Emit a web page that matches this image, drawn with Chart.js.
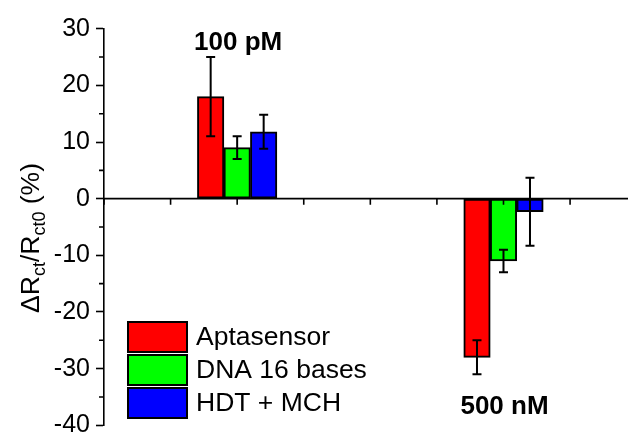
<!DOCTYPE html>
<html lang="en">
<head>
<meta charset="utf-8">
<title>Rct change</title>
<script src="https://cdn.jsdelivr.net/npm/chart.js@4.4.0/dist/chart.umd.min.js"></script>
<style>
  body { margin: 0; background: #fff; }
  #wrap { width: 628px; height: 432px; }
</style>
</head>
<body>
<div id="wrap"><canvas id="c" width="628" height="432"></canvas></div>
<script>
// x position of each concentration group, and its label
var groupPos = [2, 6];
var groupLabels = ["100 pM", "500 nM"];
var groupLabelY = [26.2, -38];

var seriesNames = ["Aptasensor", "DNA 16 bases", "HDT + MCH"];
var seriesColors = ["#ff0000", "#00ff00", "#0000ff"];
var aptaVals = [18, -28];
var aptaErr = [7, 3];
var dnaVals = [9, -11];
var dnaErr = [2, 2];
var hdtVals = [11.8, -2.3];
var hdtErr = [3, 6];

var yTicks = [-40, -30, -20, -10, 0, 10, 20, 30];
var yMinor = [-35, -25, -15, -5, 5, 15, 25];
var xTicks = [0, 1, 2, 3, 4, 5, 6, 7];

var FONT = "'Liberation Sans', Arial, sans-serif";
var errs = [aptaErr, dnaErr, hdtErr];

function pts(vals) {
  return vals.map(function (v, i) { return { x: groupPos[i], y: v }; });
}

var extras = {
  id: 'extras',
  afterDatasetsDraw: function (chart) {
    var ctx = chart.ctx, xs = chart.scales.x, ys = chart.scales.y, a = chart.chartArea;
    ctx.save();
    ctx.strokeStyle = '#000';
    ctx.lineWidth = 2;

    // error bars
    chart.data.datasets.forEach(function (ds, di) {
      var meta = chart.getDatasetMeta(di);
      meta.data.forEach(function (bar, i) {
        var v = ds.data[i].y, e = errs[di][i];
        var x = bar.x, y1 = ys.getPixelForValue(v + e), y2 = ys.getPixelForValue(v - e);
        ctx.beginPath();
        ctx.moveTo(x, y1); ctx.lineTo(x, y2);
        ctx.moveTo(x - 4.5, y1); ctx.lineTo(x + 4.5, y1);
        ctx.moveTo(x - 4.5, y2); ctx.lineTo(x + 4.5, y2);
        ctx.stroke();
      });
    });

    // zero line with its ticks
    ctx.lineWidth = 1.6;
    var y0 = ys.getPixelForValue(0);
    ctx.beginPath();
    ctx.moveTo(a.left, y0); ctx.lineTo(a.right, y0);
    xTicks.forEach(function (t) {
      var x = xs.getPixelForValue(t);
      ctx.moveTo(x, y0); ctx.lineTo(x, y0 + 6);
    });
    // minor ticks on y
    yMinor.forEach(function (t) {
      var y = ys.getPixelForValue(t);
      ctx.moveTo(a.left, y); ctx.lineTo(a.left - 5, y);
    });
    ctx.stroke();

    // concentration labels
    ctx.fillStyle = '#000';
    ctx.font = 'bold 26px ' + FONT;
    ctx.textAlign = 'center';
    ctx.textBaseline = 'alphabetic';
    groupLabels.forEach(function (t, i) {
      ctx.fillText(t, xs.getPixelForValue(groupPos[i]) + 1, ys.getPixelForValue(groupLabelY[i]));
    });
    ctx.restore();
  },
  afterDraw: function (chart) {
    var ctx = chart.ctx;
    ctx.save();
    // legend
    var lx = 128, ly = 322, bw = 59, bh = 30, gap = 33;
    ctx.font = '26.5px ' + FONT;
    ctx.textAlign = 'left';
    ctx.textBaseline = 'middle';
    seriesNames.forEach(function (n, i) {
      var y = ly + i * gap;
      ctx.fillStyle = seriesColors[i];
      ctx.fillRect(lx, y, bw, bh);
      ctx.strokeStyle = '#000';
      ctx.lineWidth = 2;
      ctx.strokeRect(lx, y, bw, bh);
      ctx.fillStyle = '#000';
      ctx.fillText(n, lx + bw + 9, y + bh / 2 + 1);
    });

    // y axis title with subscripts
    var parts = [
      ['\u0394R', 26.5, 0], ['ct', 18, 6], ['/R', 26.5, 0], ['ct0', 18, 6], [' (%)', 26.5, 0]
    ];
    var total = 0;
    parts.forEach(function (p) { ctx.font = p[1] + 'px ' + FONT; total += ctx.measureText(p[0]).width; });
    ctx.translate(39, 238);
    ctx.rotate(-Math.PI / 2);
    ctx.textBaseline = 'alphabetic';
    var cx = -total / 2;
    parts.forEach(function (p) {
      ctx.font = p[1] + 'px ' + FONT;
      ctx.fillText(p[0], cx, p[2]);
      cx += ctx.measureText(p[0]).width;
    });
    ctx.restore();
  }
};

new Chart(document.getElementById('c').getContext('2d'), {
  type: 'bar',
  data: {
    datasets: [
      { label: seriesNames[0], data: pts(aptaVals), backgroundColor: seriesColors[0] },
      { label: seriesNames[1], data: pts(dnaVals), backgroundColor: seriesColors[1] },
      { label: seriesNames[2], data: pts(hdtVals), backgroundColor: seriesColors[2] }
    ]
  },
  options: {
    responsive: false,
    animation: false,
    layout: { padding: { left: 0, right: 0, top: 28.7, bottom: 6.7 } },
    datasets: {
      bar: { barThickness: 26.5, borderColor: '#000', borderWidth: 2, borderSkipped: false }
    },
    plugins: { legend: { display: false }, tooltip: { enabled: false } },
    scales: {
      x: {
        type: 'linear', min: 0, max: 7.87, offset: false, display: false,
        grid: { offset: false }
      },
      y: {
        min: -40, max: 30,
        afterBuildTicks: function (s) { s.ticks = yTicks.map(function (v) { return { value: v }; }); },
        afterFit: function (s) { s.width = 104; s.paddingTop = 0; s.paddingBottom = 0; },
        ticks: { color: '#000', padding: 6, font: { family: FONT, size: 25 } },
        grid: { drawOnChartArea: false, tickLength: 8, tickColor: '#000', tickWidth: 1.6 },
        border: { color: '#000', width: 1.6 }
      }
    }
  },
  plugins: [extras]
});
</script>
</body>
</html>
